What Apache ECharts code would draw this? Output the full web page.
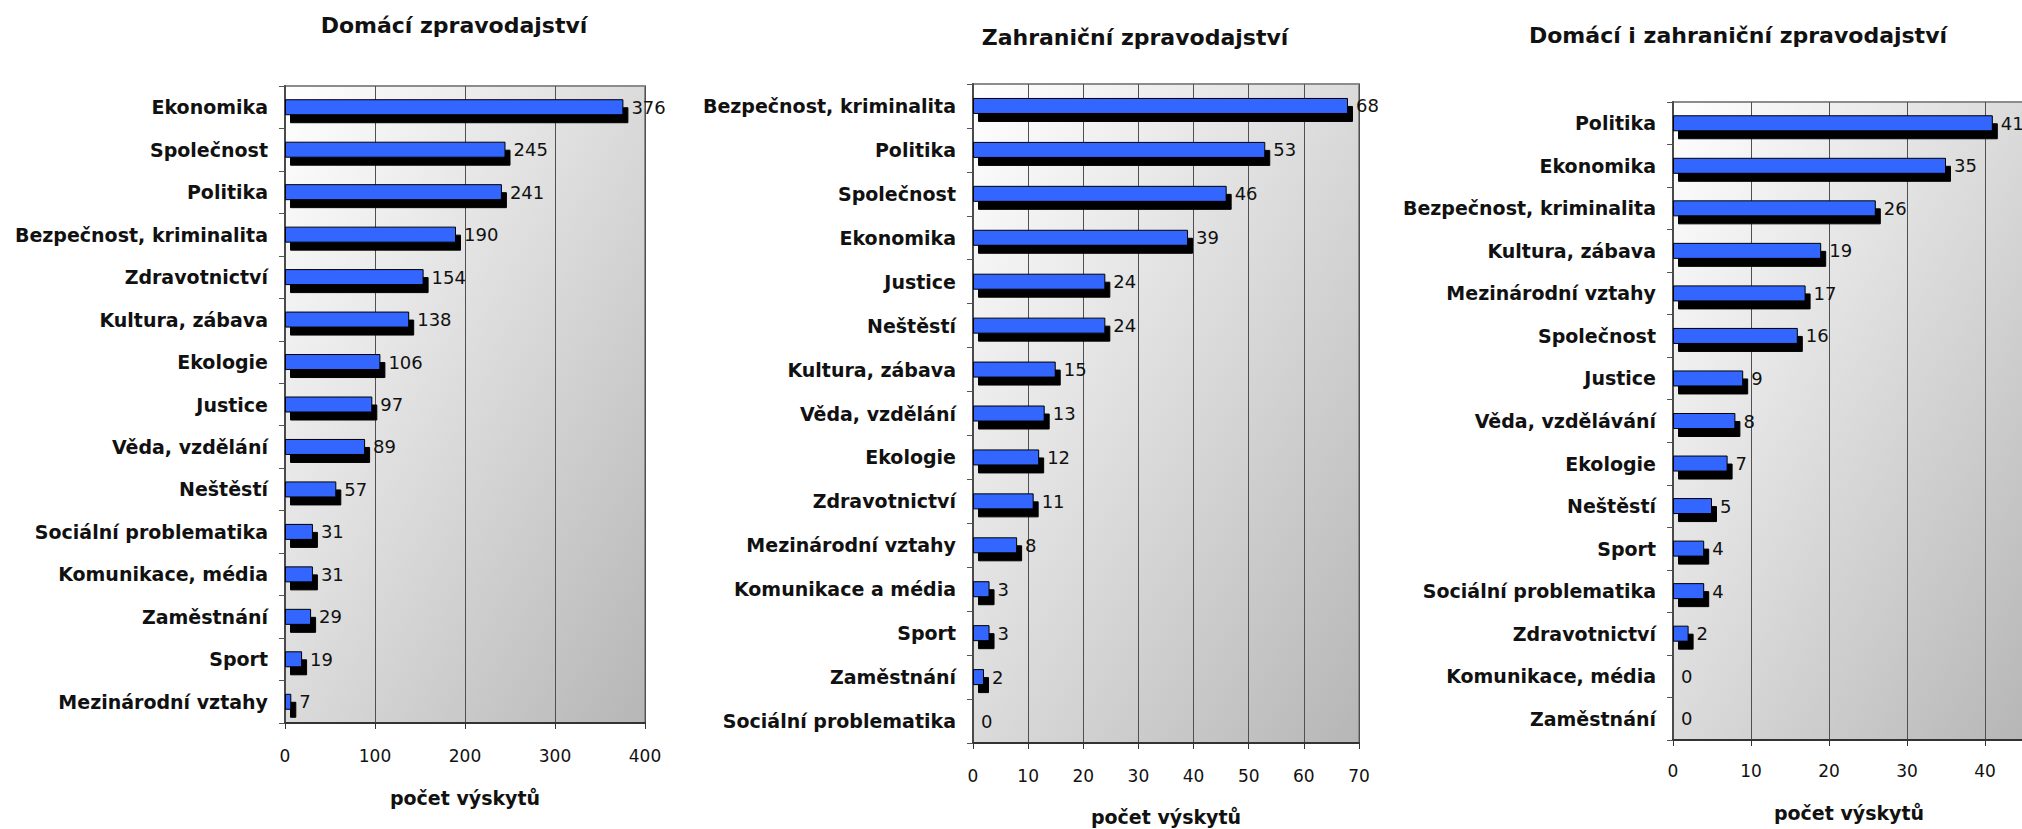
<!DOCTYPE html>
<html lang="cs">
<head>
<meta charset="utf-8">
<title>Témata zpravodajství</title>
<script src="https://cdn.jsdelivr.net/npm/echarts@6/dist/echarts.min.js"></script>
<style>
  html, body { margin: 0; padding: 0; background: #fff; }
  #chart { width: 2022px; height: 829px; }
</style>
</head>
<body>
<div id="chart"></div>
<script>
// Domácí zpravodajství
const domaciKategorie = [
  'Ekonomika', 'Společnost', 'Politika', 'Bezpečnost, kriminalita', 'Zdravotnictví',
  'Kultura, zábava', 'Ekologie', 'Justice', 'Věda, vzdělání', 'Neštěstí',
  'Sociální problematika', 'Komunikace, média', 'Zaměstnání', 'Sport', 'Mezinárodní vztahy'
];
const domaciHodnoty = [376, 245, 241, 190, 154, 138, 106, 97, 89, 57, 31, 31, 29, 19, 7];
const domaciTicks = [0, 100, 200, 300, 400];

// Zahraniční zpravodajství
const zahranicniKategorie = [
  'Bezpečnost, kriminalita', 'Politika', 'Společnost', 'Ekonomika', 'Justice',
  'Neštěstí', 'Kultura, zábava', 'Věda, vzdělání', 'Ekologie', 'Zdravotnictví',
  'Mezinárodní vztahy', 'Komunikace a média', 'Sport', 'Zaměstnání', 'Sociální problematika'
];
const zahranicniHodnoty = [68, 53, 46, 39, 24, 24, 15, 13, 12, 11, 8, 3, 3, 2, 0];
const zahranicniTicks = [0, 10, 20, 30, 40, 50, 60, 70];

// Domácí i zahraniční zpravodajství
const obojeKategorie = [
  'Politika', 'Ekonomika', 'Bezpečnost, kriminalita', 'Kultura, zábava', 'Mezinárodní vztahy',
  'Společnost', 'Justice', 'Věda, vzdělávání', 'Ekologie', 'Neštěstí',
  'Sport', 'Sociální problematika', 'Zdravotnictví', 'Komunikace, média', 'Zaměstnání'
];
const obojeHodnoty = [41, 35, 26, 19, 17, 16, 9, 8, 7, 5, 4, 4, 2, 0, 0];
const obojeTicks = [0, 10, 20, 30, 40];
const obojeMax = 45; // pravý okraj grafu je v předloze oříznutý

const osaNazev = 'počet výskytů';
const FONT = "'DejaVu Sans', Verdana, sans-serif";

const panels = [
  {
    title: 'Domácí zpravodajství', kategorie: domaciKategorie, hodnoty: domaciHodnoty,
    ticks: domaciTicks, max: domaciTicks[domaciTicks.length - 1],
    grid: { left: 285, top: 86, width: 360, height: 637 },
    titleAt: [454, 25], axisTitleAt: [465, 798], labelMargin: 24
  },
  {
    title: 'Zahraniční zpravodajství', kategorie: zahranicniKategorie, hodnoty: zahranicniHodnoty,
    ticks: zahranicniTicks, max: zahranicniTicks[zahranicniTicks.length - 1],
    grid: { left: 973, top: 84, width: 386, height: 659 },
    titleAt: [1135, 37], axisTitleAt: [1166, 817], labelMargin: 24
  },
  {
    title: 'Domácí i zahraniční zpravodajství', kategorie: obojeKategorie, hodnoty: obojeHodnoty,
    ticks: obojeTicks, max: obojeMax,
    grid: { left: 1673, top: 102, width: 351, height: 638 },
    titleAt: [1738, 35], axisTitleAt: [1849, 813], labelMargin: 22
  }
];

// svg: stín se kreslí pro celý sloupec naráz, ne zvlášť pro výplň a obrys
const chart = echarts.init(document.getElementById('chart'), null, { renderer: 'svg' });

const option = {
  animation: false,
  grid: panels.map(p => ({
    ...p.grid,
    outerBoundsMode: 'none',
    show: true,
    borderColor: '#8c8c8c',
    borderWidth: 2,
    backgroundColor: new echarts.graphic.LinearGradient(0, 0, 1, 1, [
      { offset: 0, color: '#ffffff' },
      { offset: 1, color: '#b6b6b6' }
    ])
  })),
  xAxis: panels.map((p, i) => ({
    gridIndex: i,
    type: 'value',
    min: 0,
    max: p.max,
    interval: p.ticks[1] - p.ticks[0],
    axisLine: { show: true, lineStyle: { color: '#333', width: 2 } },
    axisTick: { show: true, length: 6, lineStyle: { color: '#333' } },
    axisLabel: {
      margin: p.labelMargin, fontSize: 17, color: '#111', fontFamily: FONT,
      showMaxLabel: p.max === p.ticks[p.ticks.length - 1]
    },
    splitLine: { show: true, lineStyle: { color: '#505050', width: 1 } }
  })),
  yAxis: panels.map((p, i) => ({
    gridIndex: i,
    type: 'category',
    data: p.kategorie,
    inverse: true,
    axisLine: { show: true, lineStyle: { color: '#4a4a4a', width: 2 } },
    axisTick: { show: true, length: 6, lineStyle: { color: '#555' } },
    axisLabel: {
      interval: 0, margin: 17, fontSize: 19, fontWeight: 'bold', color: '#111', fontFamily: FONT
    },
    splitLine: { show: false }
  })),
  series: panels.map((p, i) => ({
    type: 'bar',
    xAxisIndex: i,
    yAxisIndex: i,
    barWidth: 16,
    data: p.hodnoty.map(v => v === 0
      ? { value: 0, itemStyle: { borderWidth: 0, shadowColor: 'rgba(0,0,0,0)' } }
      : v),
    itemStyle: {
      color: '#3366ff',
      borderColor: '#000',
      borderWidth: 1,
      shadowColor: '#000',
      shadowBlur: 0,
      shadowOffsetX: 5,
      shadowOffsetY: 8
    },
    label: {
      show: true, position: 'right', distance: 8,
      fontSize: 18, color: '#111', fontFamily: FONT
    },
    emphasis: { disabled: true }
  })),
  graphic: panels.flatMap(p => [
    {
      type: 'text', x: p.titleAt[0], y: p.titleAt[1],
      style: {
        text: p.title, align: 'center', verticalAlign: 'middle',
        textAlign: 'center', textVerticalAlign: 'middle',
        font: 'bold 22px ' + FONT, fill: '#111'
      }
    },
    {
      type: 'text', x: p.axisTitleAt[0], y: p.axisTitleAt[1],
      style: {
        text: osaNazev, align: 'center', verticalAlign: 'middle',
        textAlign: 'center', textVerticalAlign: 'middle',
        font: 'bold 19px ' + FONT, fill: '#111'
      }
    }
  ])
};

chart.setOption(option);

window.addEventListener('resize', () => {
  chart.resize();
});
</script>
</body>
</html>
